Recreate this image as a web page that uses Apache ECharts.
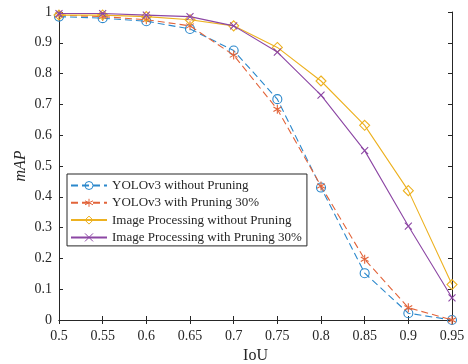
<!DOCTYPE html>
<html><head><meta charset="utf-8">
<script src="https://cdn.jsdelivr.net/npm/echarts@6/dist/echarts.min.js"></script>
<style>html,body{margin:0;padding:0;background:#fff}#c{width:468px;height:364px}</style>
</head><body><div id="c"></div>
<script>
const iou = ['0.5','0.55','0.6','0.65','0.7','0.75','0.8','0.85','0.9','0.95'];
const yoloNoPrune = [0.985,0.98,0.97,0.945,0.875,0.717,0.43,0.152,0.022,0.0];
const yoloPrune30 = [0.99,0.985,0.975,0.955,0.86,0.684,0.435,0.197,0.04,0.0];
const imgNoPrune = [0.99,0.99,0.985,0.975,0.955,0.885,0.776,0.632,0.42,0.115];
const imgPrune30 = [0.995,0.995,0.99,0.985,0.955,0.87,0.73,0.55,0.305,0.072];
const names = ['YOLOv3 without Pruning','YOLOv3 with Pruning 30%','Image Processing without Pruning','Image Processing with Pruning 30%'];

const font = '"Liberation Serif", "Times New Roman", serif';
const axisCol = '#262626';
const colors = ['#2B88CC','#E2643A','#EDB120','#8C46A4'];
const circle = 'path://M5,0A5,5,0,1,1,-5,0A5,5,0,1,1,5,0Z';
const diamond = 'path://M0,-5L5,0L0,5L-5,0Z';
const asterisk = 'path://M0,-5L0,5M-4.33,-2.5L4.33,2.5M-4.33,2.5L4.33,-2.5';
const cross = 'path://M-4,-4L4,4M-4,4L4,-4';

const chart = echarts.init(document.getElementById('c'), null, {renderer:'canvas'});
function mk(i, data, symbol, size, dashed){
  return {
    name: names[i], type:'line', data: data, xAxisIndex:0, yAxisIndex:0,
    symbol: symbol, symbolSize: size, showAllSymbol:true, symbolKeepAspect:true,
    lineStyle:{color:colors[i], width:1.1, type: dashed ? [7,4] : 'solid'},
    itemStyle:{color:'none', borderColor: colors[i], borderWidth:1.1},
    emphasis:{disabled:true}, animation:false, z: 2+i
  };
}
const baseAxis = {
  axisLine:{show:true, lineStyle:{color:axisCol, width:1}},
  axisTick:{show:true, inside:true, length:4, lineStyle:{color:axisCol}},
  splitLine:{show:false},
  axisLabel:{color:axisCol, fontFamily:font, fontSize:14}
};
chart.setOption({
  animation:false,
  grid:{left:59, top:12, right:16, bottom:44, containLabel:false, outerBoundsMode:'none'},
  xAxis:[
    Object.assign({}, baseAxis, {type:'category', data:iou, boundaryGap:false, position:'bottom',
      axisLabel:{color:axisCol, fontFamily:font, fontSize:14, margin:9, interval:0},
      axisTick:{show:true, inside:true, length:4, alignWithLabel:true, interval:0, lineStyle:{color:axisCol}},
      name:'IoU', nameLocation:'middle', nameGap:28,
      nameTextStyle:{color:axisCol, fontFamily:font, fontSize:16}}),
    Object.assign({}, baseAxis, {type:'category', data:iou, boundaryGap:false, position:'top',
      axisLabel:{show:false},
      axisTick:{show:true, inside:true, length:4, interval:0, lineStyle:{color:axisCol}}})
  ],
  yAxis:[
    Object.assign({}, baseAxis, {type:'value', min:0, max:1, interval:0.1, position:'left',
      axisLabel:{color:axisCol, fontFamily:font, fontSize:14, margin:7, formatter:v=>String(Math.round(v*10)/10)},
      name:'mAP', nameLocation:'middle', nameGap:30, nameRotate:90, nameMoveOverlap:false,
      nameTextStyle:{color:axisCol, fontFamily:font, fontSize:16, fontStyle:'italic'}}),
    Object.assign({}, baseAxis, {type:'value', min:0, max:1, interval:0.1, position:'right',
      axisLabel:{show:false}})
  ],
  legend:{
    orient:'vertical', left:67, top:174,
    data:names.map((n,i)=>({name:n, itemStyle:{color:'none', borderColor:colors[i], borderWidth:1}})),
    backgroundColor:'#fff', borderColor:axisCol, borderWidth:1,
    padding:[5,5,2,3], itemGap:4.3, itemWidth:36, itemHeight:10,
    textStyle:{color:axisCol, fontFamily:font, fontSize:13},
    selectedMode:false
  },
  series:[
    mk(0, yoloNoPrune, circle, 9, true),
    mk(1, yoloPrune30, asterisk, 9, true),
    mk(2, imgNoPrune, diamond, 10, false),
    mk(3, imgPrune30, cross, 7, false)
  ]
});
</script></body></html>
